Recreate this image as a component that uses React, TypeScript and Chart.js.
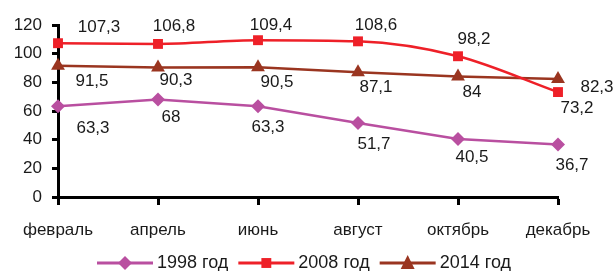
import React, { useEffect, useRef } from 'react';
import { Chart, registerables } from 'chart.js';

Chart.register(...registerables);

const categories = ['февраль', 'апрель', 'июнь', 'август', 'октябрь', 'декабрь'];
const values1998 = [63.3, 68, 63.3, 51.7, 40.5, 36.7];
const values2008 = [107.3, 106.8, 109.4, 108.6, 98.2, 73.2];
const values2014 = [91.5, 90.3, 90.5, 87.1, 84, 82.3];
const seriesNames = ['1998 год', '2008 год', '2014 год'];
const yMin = 0;
const yMax = 120;
const yStep = 20;

// data-label placement (pixel offsets of the label centre from its point)
const labelOffsets1998 = [[35, 22], [13, 18], [10, 21], [16, 21], [14, 18], [14, 21]];
const labelOffsets2008 = [[41, -16], [16, -18], [13, -15], [18, -16], [16, -17], [19, 16]];
const labelOffsets2014 = [[34, 15], [18, 13], [19, 15], [18, 15], [14, 16], [39, 8]];

const FONT = "'Liberation Sans', Arial, sans-serif";
const C1998 = '#B94FA0';
const C2008 = '#EE2028';
const C2014 = '#9A3520';

function drawMarker(ctx: CanvasRenderingContext2D, style: string, x: number, y: number, r: number, color: string) {
  ctx.save();
  ctx.fillStyle = color;
  ctx.beginPath();
  if (style === 'rectRot') {
    ctx.moveTo(x, y - r);
    ctx.lineTo(x + r, y);
    ctx.lineTo(x, y + r);
    ctx.lineTo(x - r, y);
  } else if (style === 'rect') {
    const h = r / Math.SQRT2;
    ctx.rect(x - h, y - h, 2 * h, 2 * h);
  } else {
    const h = r * 0.75;
    ctx.moveTo(x, y - r);
    ctx.lineTo(x + r * 0.87, y + h);
    ctx.lineTo(x - r * 0.87, y + h);
  }
  ctx.closePath();
  ctx.fill();
  ctx.restore();
}

const dataLabelPlugin = {
  id: 'dataLabels',
  afterDatasetsDraw(chart: any) {
    const ctx = chart.ctx as CanvasRenderingContext2D;
    const offsets = [labelOffsets1998, labelOffsets2008, labelOffsets2014];
    ctx.save();
    ctx.font = `17px ${FONT}`;
    ctx.fillStyle = '#1a1a1a';
    ctx.textAlign = 'center';
    ctx.textBaseline = 'middle';
    chart.data.datasets.forEach((ds: any, di: number) => {
      const meta = chart.getDatasetMeta(di);
      meta.data.forEach((pt: any, i: number) => {
        const [dx, dy] = offsets[di][i];
        const txt = String(ds.data[i]).replace('.', ',');
        ctx.fillText(txt, pt.x + dx, pt.y + dy);
      });
    });
    ctx.restore();
  },
};

const legendPlugin = {
  id: 'customLegend',
  afterDraw(chart: any) {
    const ctx = chart.ctx as CanvasRenderingContext2D;
    const lineLen = 56;
    const gapText = 4;
    const gapItem = 10;
    ctx.save();
    ctx.font = `18px ${FONT}`;
    const items = chart.data.datasets.map((ds: any) => ({
      ds,
      w: ctx.measureText(ds.label).width,
    }));
    const total = items.reduce((s: number, it: any) => s + lineLen + gapText + it.w, 0) + gapItem * (items.length - 1);
    let x = (chart.width - total) / 2 - 4;
    const y = 263;
    items.forEach((it: any) => {
      const ds = it.ds;
      ctx.strokeStyle = ds.borderColor;
      ctx.lineWidth = 3;
      ctx.beginPath();
      ctx.moveTo(x, y);
      ctx.lineTo(x + lineLen, y);
      ctx.stroke();
      drawMarker(ctx, ds.pointStyle, x + lineLen / 2, y, ds.pointRadius, ds.backgroundColor);
      x += lineLen + gapText;
      ctx.fillStyle = '#1a1a1a';
      ctx.textAlign = 'left';
      ctx.textBaseline = 'middle';
      ctx.fillText(ds.label, x, y);
      x += it.w + gapItem;
    });
    ctx.restore();
  },
};

export default function App() {
  const ref = useRef<HTMLCanvasElement | null>(null);

  useEffect(() => {
    document.body.style.margin = '0';
    if (!ref.current) return;
    const chart = new Chart(ref.current, {
      type: 'line',
      data: {
        labels: categories,
        datasets: [
          {
            label: seriesNames[0],
            data: values1998,
            borderColor: C1998,
            backgroundColor: C1998,
            borderWidth: 2.5,
            pointStyle: 'rectRot',
            pointRadius: 7,
            pointBorderWidth: 0,
            tension: 0,
            clip: false,
          },
          {
            label: seriesNames[1],
            data: values2008,
            borderColor: C2008,
            backgroundColor: C2008,
            borderWidth: 2.5,
            pointStyle: 'rect',
            pointRadius: 7,
            pointBorderWidth: 0,
            cubicInterpolationMode: 'monotone',
            clip: false,
          },
          {
            label: seriesNames[2],
            data: values2014,
            borderColor: C2014,
            backgroundColor: C2014,
            borderWidth: 2.5,
            pointStyle: 'triangle',
            pointRadius: 8,
            pointBorderWidth: 0,
            tension: 0,
            clip: false,
          },
        ] as any,
      },
      options: {
        animation: false,
        responsive: false,
        devicePixelRatio: 1,
        layout: { padding: { left: 0, right: 58, top: 25, bottom: 0 } },
        plugins: {
          legend: { display: false },
          tooltip: { enabled: false },
        },
        scales: {
          x: {
            type: 'category',
            offset: false,
            afterFit: (s: any) => { s.height = 74; },
            grid: {
              display: true,
              drawOnChartArea: false,
              drawTicks: true,
              tickLength: 8,
              tickWidth: 3,
              tickColor: '#000',
            },
            border: { display: true, color: '#000', width: 3 },
            ticks: {
              color: '#1a1a1a',
              font: { family: FONT, size: 17 },
              padding: 15,
              maxRotation: 0,
              autoSkip: false,
            },
          },
          y: {
            min: yMin,
            max: yMax,
            afterFit: (s: any) => { s.width = 58; },
            grid: {
              display: true,
              drawOnChartArea: false,
              drawTicks: true,
              tickLength: 6,
              tickWidth: 3,
              tickColor: '#000',
            },
            border: { display: true, color: '#000', width: 3 },
            ticks: {
              stepSize: yStep,
              color: '#1a1a1a',
              font: { family: FONT, size: 17 },
              padding: 10,
            },
          },
        },
      } as any,
      plugins: [dataLabelPlugin, legendPlugin],
    });
    return () => chart.destroy();
  }, []);

  return <canvas ref={ref} width={616} height={271} style={{ display: 'block' }} />;
}
